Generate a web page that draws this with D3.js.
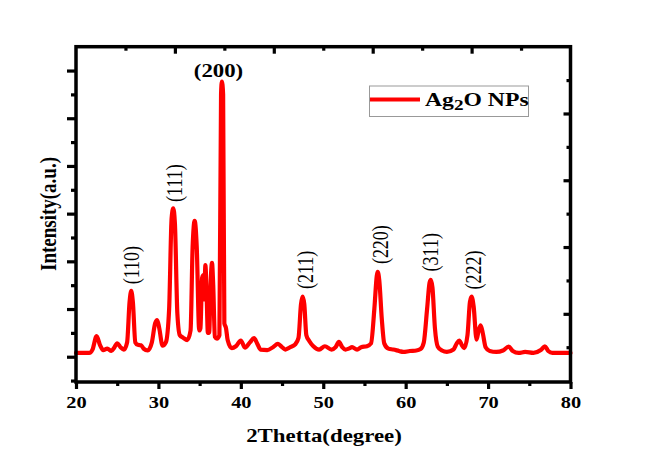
<!DOCTYPE html>
<html>
<head>
<meta charset="utf-8">
<script src="https://cdn.jsdelivr.net/npm/d3@7"></script>
<style>
html,body{margin:0;padding:0;background:#fff;}
svg{display:block;}
</style>
</head>
<body>
<svg id="chart" width="669" height="459"></svg>
<script>
// ---- data ----
const twoTheta = [20.0,21.6,22.0,22.5,22.9,23.3,23.8,24.3,24.6,25.0,25.4,25.8,26.2,26.5,26.7,26.9,27.2,27.5,27.9,28.2,28.7,29.2,29.6,29.85,30.1,30.5,30.9,31.3,31.6,31.8,32.0,32.3,32.6,33.0,33.5,33.9,34.15,34.4,34.65,34.95,35.1,35.3,35.45,35.55,35.7,35.85,36.0,36.15,36.35,36.5,36.65,36.85,37.1,37.4,37.6,37.7,37.85,38.0,38.2,38.4,38.9,39.4,40.0,40.5,41.1,41.6,42.0,42.4,43.2,43.9,44.5,45.0,45.4,46.0,46.6,47.0,47.3,47.5,47.7,47.95,48.3,48.8,49.5,50.2,51.0,51.5,51.9,52.3,52.7,53.1,53.5,54.1,54.6,55.3,55.8,56.2,56.5,56.6,56.8,57.1,57.4,57.9,58.5,59.2,59.7,60.5,61.3,61.8,62.2,62.6,62.9,63.05,63.25,63.55,63.9,64.4,65.0,65.8,66.2,66.5,66.8,67.1,67.5,67.8,68.0,68.25,68.6,68.85,69.1,69.35,69.7,70.2,71.0,71.8,72.5,73.0,73.7,74.5,75.5,76.4,76.9,77.3,77.8,80.0];
const intensity = [0.08,0.08,0.15,0.43,0.25,0.14,0.17,0.12,0.18,0.28,0.2,0.15,0.3,1.15,1.38,1.15,0.3,0.25,0.24,0.17,0.13,0.3,0.7,0.77,0.6,0.23,0.3,1.0,2.9,3.11,2.8,0.9,0.45,0.4,0.35,0.55,2.3,2.85,2.3,0.55,0.6,1.65,1.71,1.2,1.92,1.3,0.5,0.5,1.6,1.97,1.5,0.42,0.38,0.45,5.5,5.77,5.5,0.7,0.6,0.35,0.18,0.22,0.34,0.19,0.3,0.39,0.27,0.15,0.14,0.2,0.27,0.2,0.15,0.2,0.26,0.4,1.1,1.26,1.1,0.45,0.33,0.22,0.15,0.22,0.15,0.2,0.31,0.2,0.15,0.17,0.2,0.15,0.2,0.22,0.28,1.0,1.7,1.78,1.6,0.8,0.28,0.17,0.15,0.12,0.1,0.12,0.13,0.16,0.3,1.0,1.55,1.61,1.45,0.6,0.21,0.13,0.1,0.15,0.28,0.34,0.25,0.18,0.45,1.15,1.26,1.05,0.36,0.55,0.66,0.5,0.2,0.12,0.1,0.13,0.21,0.12,0.08,0.1,0.08,0.14,0.22,0.12,0.08,0.08];

const peakLabels = ["(110)","(111)","(211)","(220)","(311)","(222)"];
const peakLabelX = [26.7,31.95,47.85,56.95,62.98,68.25];
const peakLabelY = [1.92,3.64,1.82,2.35,2.19,1.82];
const topLabel = "(200)";
const topLabelX = 37.29;
const topLabelY = 5.87;

const xTicks = [20,30,40,50,60,70,80];
const seriesName = ["Ag","2","O NPs"];
const xTitle = "2Thetta(degree)";
const yTitle = "Intensity(a.u.)";

// ---- layout ----
const L = 76, R = 570.5, T = 46.7, B = 382;
const svg = d3.select("#chart");
const x = d3.scaleLinear().domain([20,80]).range([L,R]);
const y = d3.scaleLinear().domain([-0.53,6.5]).range([B,T]);
const xTop = d3.scaleLinear().domain([0,5]).range([L,R]);
const yRight = d3.scaleLinear().domain([0,5]).range([380.6,T]);

const serif = "'Liberation Serif','Times New Roman',serif";
const SX = 1.25; // horizontal text stretch seen in the reference

// curve
const pts = twoTheta.map((d,i)=>[d,intensity[i]]);
const line = d3.line().x(d=>x(d[0])).y(d=>y(d[1])).curve(d3.curveMonotoneX);
svg.append("path").datum(pts).attr("d",line)
  .attr("fill","none").attr("stroke","#ff0000").attr("stroke-width",4.2)
  .attr("stroke-linejoin","round").attr("stroke-linecap","round");

// axes
function styleAxis(g){
  g.select(".domain").remove();
  g.selectAll(".tick line").attr("stroke","#000").attr("stroke-width",3.2);
}
const xMinor = d3.range(25,80,10);
svg.append("g").attr("transform",`translate(0,${B})`)
  .call(d3.axisBottom(x).tickValues(xTicks).tickSize(7).tickFormat(d3.format("d")))
  .call(styleAxis)
  .call(g=>g.selectAll(".tick text").attr("font-family",serif).attr("font-weight","bold")
     .attr("font-size",17).attr("fill","#000").attr("y",0).attr("dy",0)
     .attr("transform",`translate(0,25.5) scale(${1.2},1)`));
svg.append("g").attr("transform",`translate(0,${B})`)
  .call(d3.axisBottom(x).tickValues(xMinor).tickSize(4).tickFormat(""))
  .call(styleAxis);

// left
svg.append("g").attr("transform",`translate(${L},0)`)
  .call(d3.axisLeft(y).tickValues(d3.range(0,7,1)).tickSize(9).tickFormat(""))
  .call(styleAxis);
svg.append("g").attr("transform",`translate(${L},0)`)
  .call(d3.axisLeft(y).tickValues(d3.range(-0.5,6.5,1)).tickSize(5).tickFormat(""))
  .call(styleAxis);
// top (inward)
svg.append("g").attr("transform",`translate(0,${T})`)
  .call(d3.axisBottom(xTop).tickValues(d3.range(1,5,1)).tickSize(7).tickFormat(""))
  .call(styleAxis);
svg.append("g").attr("transform",`translate(0,${T})`)
  .call(d3.axisBottom(xTop).tickValues(d3.range(0.5,5,1)).tickSize(4).tickFormat(""))
  .call(styleAxis);
// right (inward)
svg.append("g").attr("transform",`translate(${R},0)`)
  .call(d3.axisLeft(yRight).tickValues(d3.range(1,5,1)).tickSize(7).tickFormat(""))
  .call(styleAxis);
svg.append("g").attr("transform",`translate(${R},0)`)
  .call(d3.axisLeft(yRight).tickValues(d3.range(0,5,1).map(v=>v+0.5)).tickSize(4).tickFormat(""))
  .call(styleAxis);

// frame
svg.append("rect").attr("x",L).attr("y",T).attr("width",R-L).attr("height",B-T)
  .attr("fill","none").attr("stroke","#000").attr("stroke-width",3.5);

// peak labels
svg.append("g").selectAll("text").data(peakLabels).join("text")
  .attr("transform",(d,i)=>`translate(${x(peakLabelX[i])},${y(peakLabelY[i])}) scale(${SX},1) rotate(-90)`)
  .attr("text-anchor","middle").attr("dominant-baseline","central")
  .attr("font-family",serif).attr("font-size",18).attr("fill","#000")
  .text(d=>d);
svg.append("text").attr("transform",`translate(${x(topLabelX)},${y(topLabelY)}) scale(1.2,1)`)
  .attr("text-anchor","middle").attr("font-family",serif).attr("font-weight","bold")
  .attr("font-size",19).attr("fill","#000").text(topLabel);

// axis titles
svg.append("text").attr("transform",`translate(324,442) scale(1.27,1)`).attr("text-anchor","middle")
  .attr("font-family",serif).attr("font-weight","bold").attr("font-size",18).text(xTitle);
svg.append("text").attr("transform",`translate(48.5,214) scale(1.2,1) rotate(-90)`).attr("text-anchor","middle")
  .attr("dominant-baseline","central")
  .attr("font-family",serif).attr("font-weight","bold").attr("font-size",19).text(yTitle);

// legend
const lg = svg.append("g");
lg.append("rect").attr("x",369.5).attr("y",86).attr("width",159).attr("height",30.5)
  .attr("fill","#fff").attr("stroke","#999").attr("stroke-width",1);
lg.append("line").attr("x1",370).attr("x2",420).attr("y1",99.5).attr("y2",99.5)
  .attr("stroke","#ff0000").attr("stroke-width",4.2);
const lt = lg.append("text").attr("transform","translate(425,106) scale(1.28,1)").attr("font-family",serif)
  .attr("font-weight","bold").attr("font-size",18.5).attr("fill","#000");
lt.append("tspan").text(seriesName[0]);
lt.append("tspan").attr("font-size",15).attr("dy",4).text(seriesName[1]);
lt.append("tspan").attr("dy",-4).text(seriesName[2]);
</script>
</body>
</html>
